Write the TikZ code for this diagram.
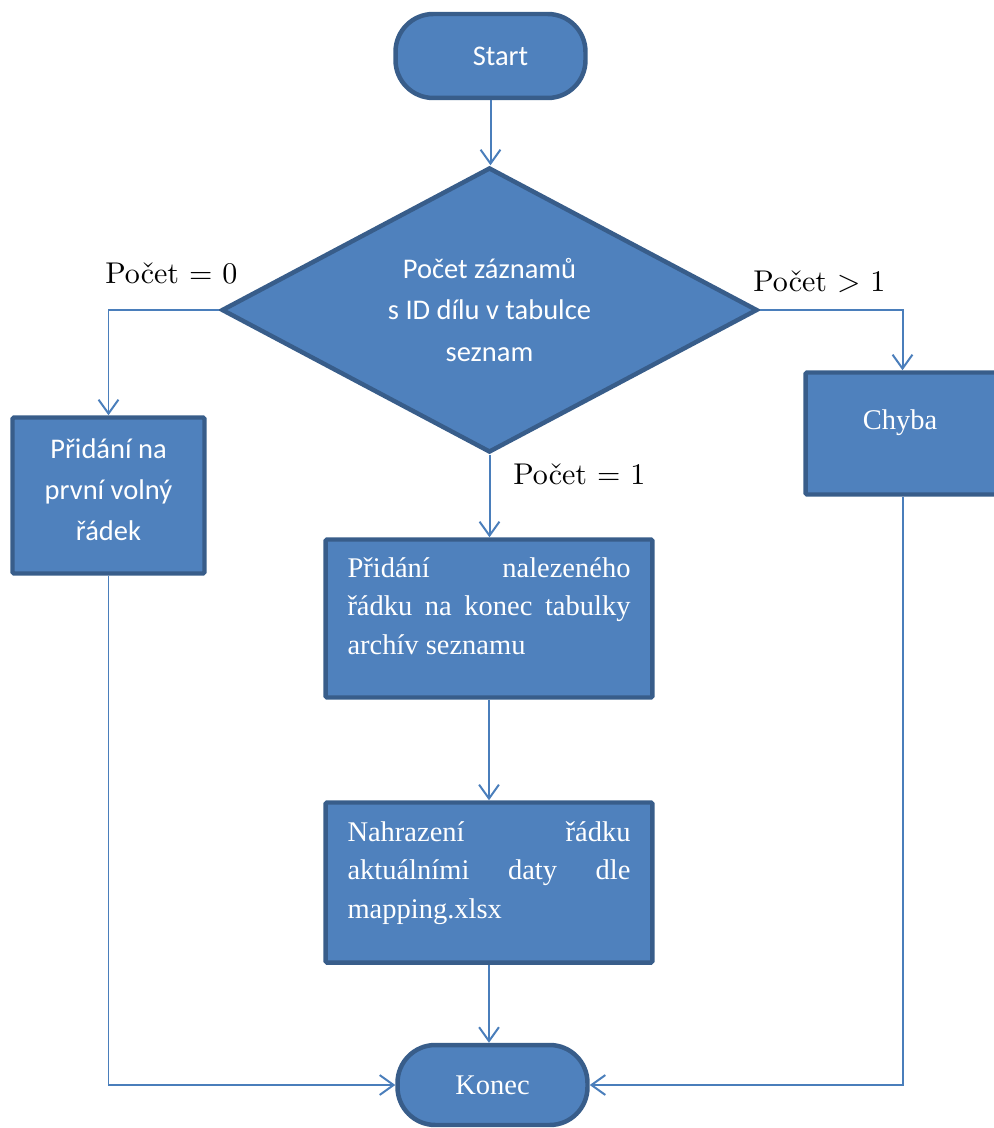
\documentclass[tikz,border=0pt]{standalone}
\usepackage{fontspec}
\newfontfamily\carlito{Carlito}
\newfontfamily\tnr{Liberation Serif}
\newfontfamily\lmten[Extension=.otf]{lmroman10-regular}
\usetikzlibrary{arrows.meta,shapes.geometric}
\newlength\pxu
\setlength\pxu{0.02cm}
\definecolor{boxfill}{HTML}{4F81BD}
\definecolor{boxline}{HTML}{385D8A}
\definecolor{linecol}{HTML}{4A7EBB}
\tikzset{
  shapebox/.style={draw=boxline, fill=boxfill, line width=2.55pt, text=white, inner sep=0pt},
  procbox/.style={shapebox, rectangle, rounded corners=0.85pt},
  termbox/.style={shapebox, rectangle, rounded corners=21.5pt},
  decbox/.style={shapebox, diamond, aspect=1.88},
  conn/.style={draw=linecol, line width=1.13pt, -{Straight Barb[length=7.9pt, width=11.3pt]}},
  lbl/.style={font=\lmten\fontsize{30\pxu}{36\pxu}\selectfont, inner sep=0pt, anchor=base west},
}
\begin{document}
\begin{tikzpicture}[x=0.02cm, y=-0.02cm]
\useasboundingbox (0,0) rectangle (993,1128);

\node[termbox, minimum width=3.8cm, minimum height=1.68cm,
      font=\carlito\fontsize{28.5\pxu}{34\pxu}\selectfont] (start) at (490.5,56) {\hspace*{20\pxu}Start};

\node[decbox, minimum width=10.72cm, minimum height=5.7cm, align=center,
      font=\carlito\fontsize{28.5\pxu}{41.5\pxu}\selectfont] (dec) at (489.5,310)
      {Počet záznamů\\s ID dílu v tabulce\\seznam};

\node[procbox, minimum width=3.84cm, minimum height=3.12cm] (add) at (108.5,495.5)
  {\parbox[c][156\pxu][t]{192\pxu}{\carlito\fontsize{28.5\pxu}{41\pxu}\selectfont\centering
   \rule{0pt}{40.5\pxu}Přidání na\\první volný\\řádek}};

\node[procbox, minimum width=3.88cm, minimum height=2.44cm] (err) at (902.5,433.5)
  {\parbox[c][122\pxu][t]{194\pxu}{\tnr\fontsize{28.5\pxu}{34\pxu}\selectfont\centering
   \rule{0pt}{56.5\pxu}\hspace*{-5\pxu}Chyba}};

\node[procbox, minimum width=6.54cm, minimum height=3.16cm] (found) at (489,618.5)
  {\parbox[c][158\pxu][t]{283\pxu}{\tnr\fontsize{28.5\pxu}{38.5\pxu}\selectfont
   \makebox[\linewidth][s]{\rule{0pt}{37.5\pxu}Přidání nalezeného}\\
   \makebox[\linewidth][s]{řádku na konec tabulky}\\
   archív seznamu}};

\node[procbox, minimum width=6.54cm, minimum height=3.2cm] (repl) at (489,882.5)
  {\parbox[c][160\pxu][t]{283\pxu}{\tnr\fontsize{28.5\pxu}{38.5\pxu}\selectfont
   \makebox[\linewidth][s]{\rule{0pt}{38.5\pxu}Nahrazení řádku}\\
   \makebox[\linewidth][s]{aktuálními daty dle}\\
   mapping.xlsx}};

\node[termbox, minimum width=3.8cm, minimum height=1.6cm,
      font=\tnr\fontsize{28.5\pxu}{34\pxu}\selectfont] (end) at (492.5,1085) {Konec};

\node[lbl] (l0) at (105,284) {Počet = 0};
\node[lbl] (l2) at (753,292) {Počet > 1};
\node[lbl] (l1) at (513,484) {Počet = 1};

\draw[conn] (start.south) -- (start.south |- dec.north);
\draw[conn] (dec.west) -| (add.north);
\draw[conn] (dec.east) -| (err.north);
\draw[conn] (dec.south) -- (dec.south |- found.north);
\draw[conn] (found.south) -- (repl.north);
\draw[conn] (repl.south) -- (repl.south |- end.north);
\draw[conn] (add.south) |- (end.west);
\draw[conn] (err.south) |- (end.east);
\end{tikzpicture}
\end{document}
